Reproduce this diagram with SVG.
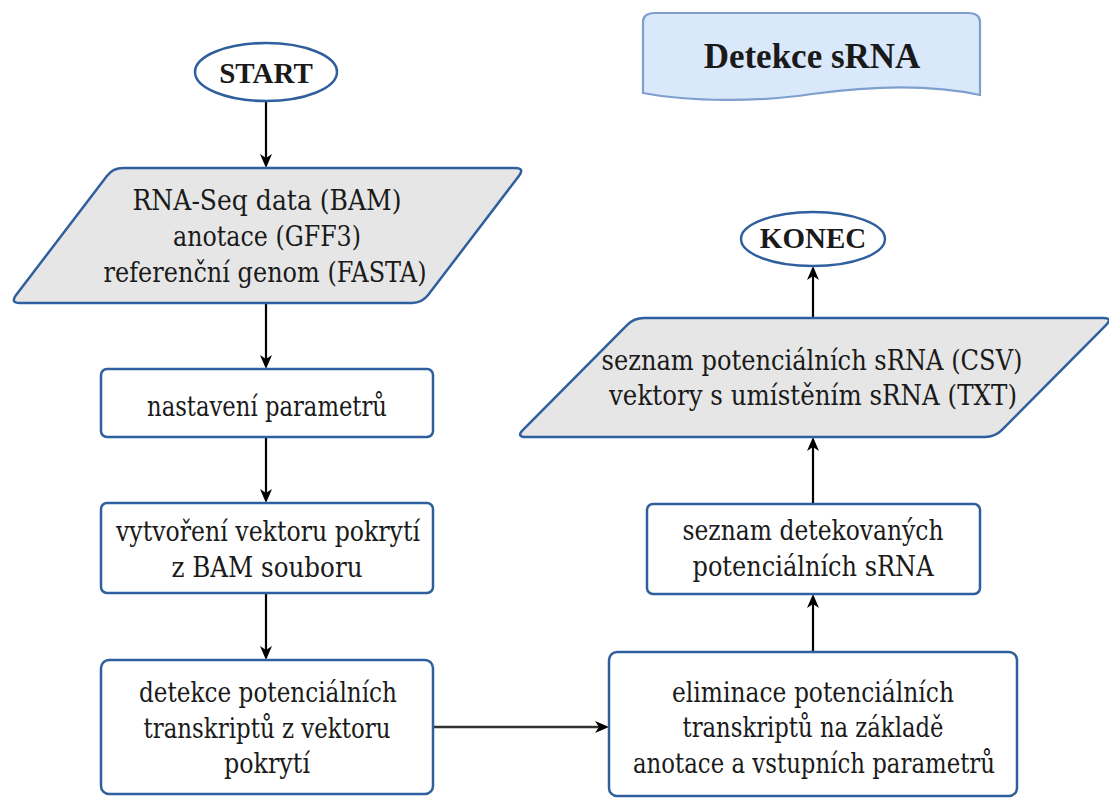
<svg xmlns="http://www.w3.org/2000/svg" width="1109" height="798" viewBox="0 0 1109 798">
<defs>
<style>
.box{fill:#ffffff;stroke:#2f5f9c;stroke-width:2.5}
.io{fill:#e6e6e6;stroke:#2f5f9c;stroke-width:2.5}
.t{font-family:'DejaVu Serif',serif;font-size:27px;fill:#1a1a1a;text-anchor:middle}
.b{font-family:'Liberation Serif','DejaVu Serif',serif;font-weight:bold;font-size:29px;fill:#1a1a1a;text-anchor:middle}
.c{fill:none;stroke:#000000;stroke-width:2.2}
</style>
<marker id="arr" markerUnits="userSpaceOnUse" viewBox="0 0 14 12" refX="10" refY="6" markerWidth="14" markerHeight="12" orient="auto">
<path d="M0,0 L14,6 L0,12 L4,6 Z" fill="#000000"/>
</marker>
</defs>
<rect width="1109" height="798" fill="#ffffff"/>

<g id="title">
<path d="M643,22 Q643,13 655,13 L968,13 Q980,13 980,22 L980,95 C930,84 870,86 812,94 C760,102 690,102 643,93 Z" fill="#dae8fc" stroke="#7f9fcf" stroke-width="2.2"/>
<text x="812" y="68" class="b" style="font-size:35px">Detekce sRNA</text>
</g>

<g id="connectors">
<line class="c" x1="266" y1="102" x2="266" y2="164" marker-end="url(#arr)"/>
<line class="c" x1="266" y1="303" x2="266" y2="365" marker-end="url(#arr)"/>
<line class="c" x1="266" y1="437" x2="266" y2="499" marker-end="url(#arr)"/>
<line class="c" x1="266" y1="593" x2="266" y2="656" marker-end="url(#arr)"/>
<line class="c" x1="433" y1="727" x2="605" y2="727" marker-end="url(#arr)" style="stroke:#333333;stroke-width:2.6"/>
<line class="c" x1="813" y1="652" x2="813" y2="598" marker-end="url(#arr)"/>
<line class="c" x1="813" y1="504" x2="813" y2="441" marker-end="url(#arr)"/>
<line class="c" x1="813" y1="318" x2="813" y2="270" marker-end="url(#arr)"/>
</g>

<g id="start">
<ellipse cx="266" cy="72" rx="71" ry="29" class="box"/>
<text x="266" y="83" class="b">START</text>
</g>

<g id="input">
<path class="io" d="M123,168 L515,168 Q525,168 518.9,175.9 L428.1,295.1 Q422,303 412,303 L20,303 Q10,303 16.1,295.1 L106.9,175.9 Q113,168 123,168 Z"/>
<text x="267" y="210" class="t" textLength="269" lengthAdjust="spacingAndGlyphs">RNA-Seq data (BAM)</text>
<text x="267" y="246" class="t" textLength="188" lengthAdjust="spacingAndGlyphs">anotace (GFF3)</text>
<text x="265" y="282" class="t" textLength="323" lengthAdjust="spacingAndGlyphs">referenční genom (FASTA)</text>
</g>

<g id="params">
<rect x="101" y="369" width="332" height="68" rx="6" class="box"/>
<text x="267" y="416" class="t" textLength="240" lengthAdjust="spacingAndGlyphs">nastavení parametrů</text>
</g>

<g id="vector">
<rect x="101" y="503" width="332" height="90" rx="6" class="box"/>
<text x="268" y="541" class="t" textLength="304" lengthAdjust="spacingAndGlyphs">vytvoření vektoru pokrytí</text>
<text x="267" y="577" class="t" textLength="191" lengthAdjust="spacingAndGlyphs">z BAM souboru</text>
</g>

<g id="detect">
<rect x="101" y="660" width="332" height="134" rx="8" class="box"/>
<text x="268" y="702" class="t" textLength="258" lengthAdjust="spacingAndGlyphs">detekce potenciálních</text>
<text x="267" y="738" class="t" textLength="247" lengthAdjust="spacingAndGlyphs">transkriptů z vektoru</text>
<text x="267" y="773" class="t" textLength="86" lengthAdjust="spacingAndGlyphs">pokrytí</text>
</g>

<g id="eliminate">
<rect x="609" y="652" width="408" height="144" rx="8" class="box"/>
<text x="813" y="702" class="t" textLength="282" lengthAdjust="spacingAndGlyphs">eliminace potenciálních</text>
<text x="813" y="737" class="t" textLength="261" lengthAdjust="spacingAndGlyphs">transkriptů na základě</text>
<text x="814" y="773" class="t" textLength="362" lengthAdjust="spacingAndGlyphs">anotace a vstupních parametrů</text>
</g>

<g id="list">
<rect x="647" y="504" width="333" height="90" rx="6" class="box"/>
<text x="813" y="540" class="t" textLength="261" lengthAdjust="spacingAndGlyphs">seznam detekovaných</text>
<text x="813" y="576" class="t" textLength="241" lengthAdjust="spacingAndGlyphs">potenciálních sRNA</text>
</g>

<g id="output">
<path class="io" d="M644,318 L1103,318 Q1113,318 1106,325.1 L1002,429.9 Q995,437 985,437 L526,437 Q516,437 523,429.9 L627,325.1 Q634,318 644,318 Z"/>
<text x="812" y="370" class="t" textLength="421" lengthAdjust="spacingAndGlyphs">seznam potenciálních sRNA (CSV)</text>
<text x="813" y="405" class="t" textLength="408" lengthAdjust="spacingAndGlyphs">vektory s umístěním sRNA (TXT)</text>
</g>

<g id="end">
<ellipse cx="813" cy="239" rx="72" ry="27" class="box"/>
<text x="813" y="248" class="b">KONEC</text>
</g>
</svg>
